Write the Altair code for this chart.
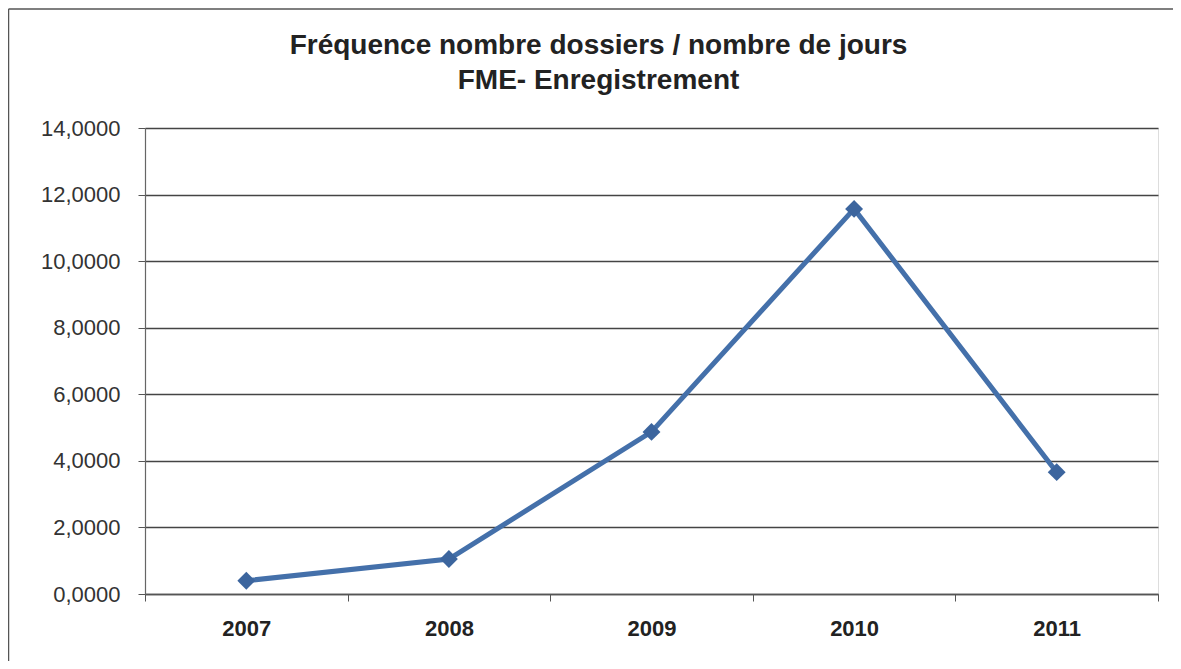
import altair as alt
import pandas as pd

years = ["2007", "2008", "2009", "2010", "2011"]
values = [0.40, 1.05, 4.87, 11.57, 3.66]
y_ticks = [0, 2, 4, 6, 8, 10, 12, 14]
title_lines = ["Fréquence nombre dossiers / nombre de jours", "FME- Enregistrement"]

df = pd.DataFrame({"annee": years, "valeur": values})

W, H = 1013, 466

line = alt.Chart(df).mark_line(
    color="#4470AA", strokeWidth=5,
    point=alt.OverlayMarkDef(shape="diamond", size=320, filled=True, color="#3C659E"),
).encode(
    x=alt.X("annee:N", sort=years, title=None,
            scale=alt.Scale(paddingInner=0, paddingOuter=0),
            axis=alt.Axis(labelAngle=0, labelFont="Liberation Sans", labelFontSize=22,
                          labelFontWeight="bold", labelColor="#222222", labelPadding=17,
                          tickBand="extent", ticks=True, tickSize=7, tickColor="#555555",
                          domainColor="#555555", domainWidth=1.5, grid=False)),
    y=alt.Y("valeur:Q", title=None,
            scale=alt.Scale(domain=[0, 14], nice=False),
            axis=alt.Axis(values=y_ticks, labelExpr="replace(format(datum.value, '.4f'), '.', ',')",
                          labelFont="Liberation Sans", labelFontSize=22, labelColor="#333333",
                          labelPadding=18, tickSize=7, tickColor="#555555",
                          domainColor="#666666", domainWidth=1.2,
                          grid=True, gridColor="#444444", gridWidth=1.5)),
)

frame_src = pd.DataFrame({"b": [0]})
border_top = alt.Chart(frame_src).mark_rule(stroke="#555555", strokeWidth=1.5).encode(
    x=alt.value(-136.5), x2=alt.value(1060), y=alt.value(-119)
)
border_left = alt.Chart(frame_src).mark_rule(stroke="#555555", strokeWidth=1.5).encode(
    x=alt.value(-136.5), y=alt.value(-119), y2=alt.value(560)
)

chart = alt.layer(border_top, border_left, line).properties(
    width=W, height=H,
    title=alt.TitleParams(text=title_lines, font="Liberation Sans", fontSize=28,
                          fontWeight="bold", color="#222222", anchor="middle",
                          frame="group", dx=-53, offset=-87, lineHeight=35),
    autosize=alt.AutoSizeParams(type="none"),
    padding={"left": 137, "top": 120, "right": 15, "bottom": 67},
).configure_view(stroke=None).configure(background="white")

chart.save("out.html", embed_options={"renderer": "svg", "actions": False})
